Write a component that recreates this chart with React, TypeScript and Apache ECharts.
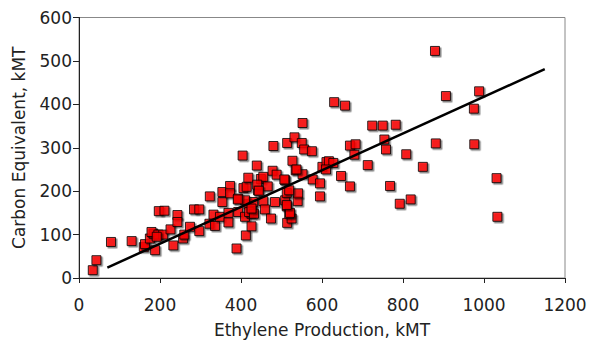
import React, { useEffect, useRef } from "react";
import * as echarts from "echarts";

const xTicks = [0, 200, 400, 600, 800, 1000, 1200];
const yTicks = [0, 100, 200, 300, 400, 500, 600];

const points: [number, number][] = [
  [34, 18], [43, 41], [79, 83], [130, 85], [160, 71], [163, 78], [175, 91], [184, 102],
  [179, 106], [188, 64], [196, 100], [208, 100], [192, 95], [197, 154], [211, 155], [226, 112],
  [233, 75], [243, 145], [243, 129], [257, 91], [260, 100], [274, 118], [284, 158], [297, 158],
  [297, 108], [322, 125], [336, 120], [332, 146], [348, 141], [369, 150], [369, 128], [354, 175],
  [354, 198], [373, 212], [373, 195], [323, 188], [393, 183], [393, 152], [404, 282], [389, 68],
  [412, 98], [410, 141], [426, 148], [426, 119], [426, 156], [418, 170], [430, 175], [410, 179],
  [392, 181], [406, 207], [414, 210], [418, 231], [439, 259], [449, 228], [455, 233], [442, 202],
  [466, 211], [455, 177], [459, 158], [474, 137], [484, 175], [478, 247], [488, 238], [480, 304],
  [509, 225], [509, 179], [513, 165], [513, 196], [514, 127], [525, 137], [519, 148], [420, 152],
  [432, 148], [440, 215], [444, 201], [514, 311], [532, 324], [550, 311], [556, 296], [575, 292],
  [552, 357], [527, 270], [535, 248], [540, 177], [552, 239], [541, 195], [519, 202], [507, 227],
  [537, 250], [577, 227], [595, 218], [595, 188], [601, 256], [611, 267], [617, 269], [628, 265],
  [610, 250], [647, 235], [669, 211], [630, 405], [657, 397], [669, 305], [683, 308], [680, 284],
  [713, 260], [724, 351], [750, 351], [782, 353], [754, 319], [758, 296], [768, 212], [792, 171],
  [819, 181], [808, 285], [849, 256], [879, 523], [881, 310], [906, 419], [975, 390], [988, 430],
  [976, 308], [1031, 230], [1033, 141], [521, 150], [513, 168], [426, 160],
];

const trendX = [70, 1150];
const trendY = [24, 481];

const FONT = "DejaVu Sans";
const TEXT = "#222";
const FS = 17;

export default function App() {
  const ref = useRef<HTMLDivElement>(null);
  useEffect(() => {
    if (!ref.current) return;
    const chart = echarts.init(ref.current, undefined, { renderer: "svg" });
    chart.setOption({
      animation: false,
      backgroundColor: "#fff",
      grid: {
        left: 79,
        right: 28,
        top: 17.5,
        bottom: 62,
        containLabel: false,
        outerBoundsMode: "none",
        show: true,
        borderColor: "#888",
        borderWidth: 1,
        backgroundColor: "transparent",
      },
      xAxis: {
        type: "value",
        min: 0,
        max: 1200,
        interval: 200,
        name: "Ethylene Production, kMT",
        nameLocation: "middle",
        nameGap: 43,
        nameTextStyle: { fontFamily: FONT, fontSize: FS, color: TEXT },
        axisLine: { show: true, onZero: false, lineStyle: { color: "#222", width: 1 } },
        axisTick: { show: true, inside: false, length: 5, lineStyle: { color: "#222" } },
        axisLabel: {
          fontFamily: FONT,
          fontSize: FS,
          color: TEXT,
          margin: 18,
          formatter: (v: number) => (xTicks.includes(v) ? String(v) : ""),
        },
        splitLine: { show: false },
      },
      yAxis: {
        type: "value",
        min: 0,
        max: 600,
        interval: 100,
        name: "Carbon Equivalent, kMT",
        nameLocation: "middle",
        nameGap: 52,
        nameTextStyle: { fontFamily: FONT, fontSize: FS, color: TEXT },
        axisLine: { show: true, onZero: false, lineStyle: { color: "#222", width: 1 } },
        axisTick: { show: true, inside: false, length: 6, lineStyle: { color: "#222" } },
        axisLabel: {
          fontFamily: FONT,
          fontSize: FS,
          color: TEXT,
          margin: 7,
          formatter: (v: number) => (yTicks.includes(v) ? String(v) : ""),
        },
        splitLine: { show: false },
      },
      series: [
        {
          type: "scatter",
          data: points,
          symbol: "rect",
          symbolSize: 9,
          itemStyle: {
            color: "#ff0000",
            borderColor: "#000",
            borderWidth: 1,
            shadowColor: "rgba(0,0,0,0.55)",
            shadowBlur: 1.5,
            shadowOffsetX: 1.5,
            shadowOffsetY: 1.5,
          },
          z: 2,
        },
        {
          type: "line",
          data: trendX.map((x, i) => [x, trendY[i]]),
          symbol: "none",
          lineStyle: { color: "#000", width: 2.5 },
          z: 3,
        },
      ],
    });
    return () => chart.dispose();
  }, []);
  return <div ref={ref} style={{ width: 593, height: 340, position: "absolute", left: 0, top: 0 }} />;
}
